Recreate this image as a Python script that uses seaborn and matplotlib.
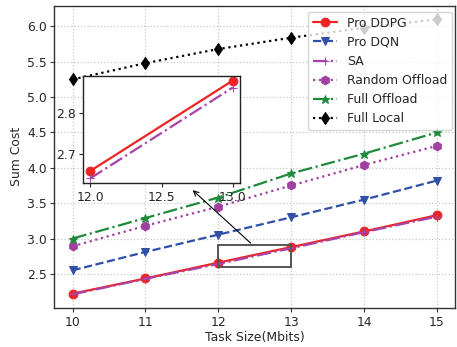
import matplotlib
matplotlib.use('Agg')
import matplotlib.pyplot as plt
import matplotlib.patches as patches
import seaborn as sns

# Values
task_size = [10, 11, 12, 13, 14, 15]
pro_ddpg = [2.22, 2.435, 2.659, 2.879, 3.10, 3.33]
pro_dqn = [2.55, 2.81, 3.055, 3.30, 3.55, 3.82]
sa = [2.21, 2.43, 2.641, 2.862, 3.09, 3.31]
random_offload = [2.89, 3.18, 3.45, 3.75, 4.04, 4.31]
full_offload = [3.00, 3.29, 3.58, 3.92, 4.20, 4.50]
full_local = [5.25, 5.48, 5.68, 5.84, 5.98, 6.10]

series = [
    ('Pro DDPG', pro_ddpg, '#ee2424', '-', 'o'),
    ('Pro DQN', pro_dqn, '#3050a8', '--', 'v'),
    ('SA', sa, '#a844a8', '-.', '+'),
    ('Random Offload', random_offload, '#a040a0', ':', 'h'),
    ('Full Offload', full_offload, '#1f8a3c', '-.', '*'),
    ('Full Local', full_local, 'black', ':', 'd'),
]

FS = 8.9

sns.set_style('white')
plt.rcParams['font.family'] = ['DejaVu Sans']
plt.rcParams['font.size'] = FS

fig = plt.figure(figsize=(4.57, 3.47), dpi=100)
ax = fig.add_axes([0.119, 0.112, 0.877, 0.872])

for name, vals, color, ls, mk in series:
    sns.lineplot(x=task_size, y=vals, ax=ax, color=color, linestyle=ls,
                 marker=mk, markersize=6.3, markeredgecolor=color,
                 linewidth=1.6, label=name)

ax.set_xticks(task_size)
ax.set_yticks([2.5, 3.0, 3.5, 4.0, 4.5, 5.0, 5.5, 6.0])
ax.grid(True, linestyle=':', color='#c8c8c8', linewidth=0.9)
ax.set_xlabel('Task Size(Mbits)', fontsize=FS, labelpad=1.5)
ax.set_ylabel('Sum Cost', fontsize=FS, labelpad=3)
ax.tick_params(axis='both', labelsize=FS, length=3, color='#333333', direction='out',
               bottom=True, left=True, pad=2.5)
for sp in ax.spines.values():
    sp.set_color('#333333')
    sp.set_linewidth(1.0)

ax.legend(loc='upper right', bbox_to_anchor=(0.993, 0.98), borderaxespad=0,
          fontsize=FS, framealpha=0.8, edgecolor='#cccccc')

# zoomed region marker and arrow
rect = patches.Rectangle((12, 2.6), 1, 0.31, fill=False, edgecolor='#555555', linewidth=1.4, zorder=5)
ax.add_patch(rect)
ax.annotate('', xy=(11.62, 3.71), xytext=(12.47, 2.91),
            arrowprops=dict(arrowstyle='->', color='black', linewidth=0.8))

# inset
axins = fig.add_axes([0.182, 0.472, 0.343, 0.310])
for name, vals, color, ls, mk in series:
    if name in ('Pro DDPG', 'SA'):
        sns.lineplot(x=task_size[2:4], y=vals[2:4], ax=axins, color=color, linestyle=ls,
                     marker=mk, markersize=6.3, markeredgecolor=color,
                     linewidth=1.6, legend=False)
axins.set_xticks([12.0, 12.5, 13.0])
axins.set_xticklabels(['12.0', '12.5', '13.0'])
axins.set_yticks([2.7, 2.8])
axins.tick_params(axis='both', labelsize=FS, length=3, direction='out', bottom=True, left=True, pad=2.5)
axins.set_facecolor('white')
for sp in axins.spines.values():
    sp.set_color('#222222')
    sp.set_linewidth(1.0)

fig.savefig('out.png', dpi=100)
